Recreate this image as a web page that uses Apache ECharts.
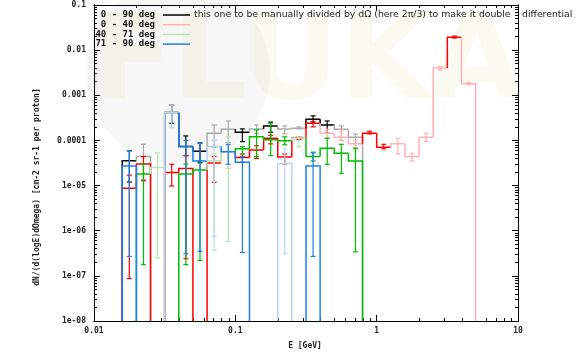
<!DOCTYPE html>
<html>
<head>
<meta charset="utf-8">
<script src="https://cdn.jsdelivr.net/npm/echarts@6/dist/echarts.min.js"></script>
<style>
  html, body { margin: 0; padding: 0; background: #fff; }
  #chart { width: 582px; height: 353px; }
</style>
</head>
<body>
<div id="chart"></div>
<script>
// energy bin edges [GeV], 10 log bins per decade
var edges = [0.01, 0.01259, 0.01585, 0.01995, 0.02512, 0.03162, 0.03981, 0.05012, 0.0631, 0.07943,
  0.1, 0.1259, 0.1585, 0.1995, 0.2512, 0.3162, 0.3981, 0.5012, 0.631, 0.7943,
  1, 1.259, 1.585, 1.995, 2.512, 3.162, 3.981, 5.012, 6.31, 7.943, 10];

var names = ['0 - 90 deg', '0 - 40 deg', '40 - 71 deg', '71 - 90 deg'];

// 0 - 90 deg
var allVal = [null, null, 3.55e-5, 4.4e-5, null, 4.15e-4, 7.3e-5, 5.75e-5, 1.44e-4, 1.77e-4,
  1.52e-4, 1.8e-4, 2.1e-4, 1.8e-4, 1.87e-4, 2.96e-4, 2.2e-4, 1.77e-4, 1.18e-4];
var allLo = [null, null, 1.2e-5, 1.37e-5, null, 2.4e-4, 4.6e-5, 3.2e-5, 7e-5, 9e-5,
  9.4e-5, 1.44e-4, 1.52e-4, 1.4e-4, 1.8e-4, 2.41e-4, 1.44e-4, 1.0e-4, 6.7e-5];
var allHi = [null, null, 5.9e-5, 8.2e-5, null, 6.05e-4, 1.26e-4, 8.8e-5, 2.2e-4, 2.7e-4,
  1.8e-4, 2.2e-4, 2.54e-4, 2.1e-4, 2.0e-4, 3.5e-4, 2.7e-4, 2.1e-4, 1.39e-4];

// 0 - 40 deg
var fwdVal = [null, null, 8.7e-6, 3.0e-5, null, 1.96e-5, 2.4e-5, null, 3.16e-5, 5.6e-5,
  4.2e-5, 6.15e-5, 1.12e-4, 4.3e-5, 1.12e-4, 2.41e-4, 1.44e-4, 1.18e-4, 8.4e-5, 1.44e-4,
  7.1e-5, 8.4e-5, 4.4e-5, 1.18e-4, 4.0e-3, 1.93e-2, 1.8e-3];
var fwdLo = [null, null, 8.7e-8, 1.28e-5, null, 9.75e-6, 2.4e-7, null, 1.18e-5, 2.4e-5,
  3.3e-5, 4.0e-5, 8.4e-5, 3.0e-5, 1.05e-4, 2.0e-4, 1.12e-4, 9.9e-5, 6.5e-5, 1.39e-4,
  6.5e-5, 5.0e-5, 3.5e-5, 9.4e-5, 3.6e-3, 1.85e-2, 1.7e-3];
var fwdHi = [null, null, 1.7e-5, 4.4e-5, null, 2.96e-5, 4.6e-5, null, 4.4e-5, 8e-5,
  5.0e-5, 7.6e-5, 1.3e-4, 5.0e-5, 1.2e-4, 2.6e-4, 1.77e-4, 1.71e-4, 1.0e-4, 1.6e-4,
  8.2e-5, 1.12e-4, 5.2e-5, 1.44e-4, 4.4e-3, 2.05e-2, 1.9e-3];

// 40 - 71 deg
var midVal = [null, null, null, 1.8e-5, 2.5e-5, null, 1.8e-5, 2.2e-5, 3.55e-5, 5.6e-5,
  6.5e-5, 1.21e-4, 1.03e-4, 9.9e-5, 1.12e-4, 4.4e-5, 6.7e-5, 5.2e-5, 3.5e-5];
var midLo = [null, null, null, 1.77e-7, 2.5e-7, null, 1.77e-7, 2.2e-7, 3.7e-7, 5.8e-7,
  4.4e-5, 4.4e-5, 4.6e-5, 8e-5, 7.3e-5, 3.5e-5, 2.96e-5, 1.87e-5, 3.4e-7];
var midHi = [null, null, null, 3.0e-5, 5.3e-5, null, 3.0e-5, 3.5e-5, 5.0e-5, 1.21e-4,
  7.3e-5, 1.71e-4, 2.41e-4, 1.2e-4, 1.2e-4, 5.5e-5, 1.12e-4, 8.2e-5, 6.7e-5];

// 71 - 90 deg
var bckVal = [null, null, 2.7e-5, null, null, 4.08e-4, 7.3e-5, 3.5e-5, 7.3e-5, 5.6e-5,
  3.3e-5, null, null, 3.1e-5, null, 2.7e-5];
var bckLo = [null, null, 2.7e-7, null, null, 1.92e-4, 3.1e-7, 3.5e-7, 7.5e-7, 2.96e-5,
  3.3e-7, null, null, 3.1e-7, null, 2.7e-7];
var bckHi = [null, null, 5.9e-5, null, null, 6.05e-4, 1.0e-4, 8.8e-5, 1.0e-4, 8.2e-5,
  4.4e-5, null, null, 6.5e-5, null, 5.3e-5];

var xTickValues = [0.01, 0.1, 1, 10];
var xTickLabels = ['0.01', '0.1', '1', '10'];
var yTickValues = [1e-8, 1e-7, 1e-6, 1e-5, 1e-4, 1e-3, 1e-2, 1e-1];
var yTickLabels = ['1e-08', '1e-07', '1e-06', '1e-05', '0.0001', '0.001', '0.01', '0.1'];

function minorValues(lo, hi) {
  var out = [];
  for (var d = lo; d < hi; d *= 10) {
    for (var m = 2; m <= 9; m++) out.push(+(m * d).toPrecision(3));
  }
  return out;
}

function labelFor(values, labels) {
  return function (v) {
    for (var i = 0; i < values.length; i++) {
      if (Math.abs(Math.log10(v) - Math.log10(values[i])) < 0.01) return labels[i];
    }
    return '';
  };
}

// step histogram + error bar for one bin
function makeRender(dark, light, faint) {
  return function (params, api) {
    var k = api.value(0);
    var c = faint.indexOf(k) >= 0 ? light : dark;
    var bottom = params.coordSys.y + params.coordSys.height;
    var xa = api.value(1), xb = api.value(2), v = api.value(3);
    var p0 = api.coord([xa, v]);
    var p1 = api.coord([xb, v]);
    var prev = api.value(6), next = api.value(7);
    var yPrev = prev > 0 ? api.coord([xa, prev])[1] : bottom;
    var pts = [[p0[0], yPrev], p0, p1];
    if (!(next > 0)) pts.push([p1[0], bottom]);
    var xm = api.coord([Math.sqrt(xa * xb), v])[0];
    var yl = api.coord([xa, api.value(4)])[1];
    var yh = api.coord([xa, api.value(5)])[1];
    var cap = 2.5;
    return {
      type: 'group',
      children: [
        { type: 'polyline', shape: { points: pts }, style: { stroke: c, lineWidth: 1.5, fill: null } },
        { type: 'line', shape: { x1: xm, y1: yl, x2: xm, y2: yh }, style: { stroke: c, lineWidth: 1.2 } },
        { type: 'line', shape: { x1: xm - cap, y1: yl, x2: xm + cap, y2: yl }, style: { stroke: c, lineWidth: 1.2 } },
        { type: 'line', shape: { x1: xm - cap, y1: yh, x2: xm + cap, y2: yh }, style: { stroke: c, lineWidth: 1.2 } }
      ]
    };
  };
}

function binData(val, lo, hi) {
  var out = [];
  for (var k = 0; k < val.length; k++) {
    if (val[k] == null) continue;
    out.push([k, edges[k], edges[k + 1], val[k], lo[k], hi[k],
      val[k - 1] || 0, val[k + 1] || 0]);
  }
  return out;
}

// drawn in key order, the last one ends on top
var sets = [
  { name: names[0], val: allVal, lo: allLo, hi: allHi, dark: '#000000', light: '#aaaaaa', faint: [3, 8, 9, 11, 13, 14, 17, 18], legend: '#000000' },
  { name: names[1], val: fwdVal, lo: fwdLo, hi: fwdHi, dark: '#ff0000', light: '#ffb2b2', faint: [9, 16, 17, 18, 21, 22, 23, 24, 26], legend: '#ffb2b2' },
  { name: names[2], val: midVal, lo: midLo, hi: midHi, dark: '#00bb00', light: '#b6e6b6', faint: [4, 8, 9, 14], legend: '#b6e6b6' },
  { name: names[3], val: bckVal, lo: bckLo, hi: bckHi, dark: '#1a80f0', light: '#b8d6f4', faint: [5, 8, 13], legend: '#1a80f0' }
];

var monoFont = 'DejaVu Sans Mono';
var tickText = { fontFamily: monoFont, fontSize: 8, fontWeight: 'bold', color: '#222' };

function xAx(pos, ticks, len, labels) {
  return {
    type: 'log', logBase: 10, min: 0.01, max: 10, position: pos,
    axisLine: { show: true, lineStyle: { color: '#000', width: 1 } },
    axisTick: { show: true, inside: true, length: len, customValues: ticks, lineStyle: { color: '#000' } },
    axisLabel: labels ? Object.assign({ show: true, margin: 6, customValues: xTickValues,
      formatter: labelFor(xTickValues, xTickLabels) }, tickText) : { show: false },
    splitLine: { show: false }, minorTick: { show: false }
  };
}
function yAx(pos, ticks, len, labels) {
  return {
    type: 'log', logBase: 10, min: 1e-8, max: 0.1, position: pos,
    axisLine: { show: true, lineStyle: { color: '#000', width: 1 } },
    axisTick: { show: true, inside: true, length: len, customValues: ticks, lineStyle: { color: '#000' } },
    axisLabel: labels ? Object.assign({ show: true, margin: 8, customValues: yTickValues,
      formatter: labelFor(yTickValues, yTickLabels) }, tickText) : { show: false },
    splitLine: { show: false }, minorTick: { show: false }
  };
}

var legendGraphics = [];
sets.forEach(function (s, i) {
  var y = 15 + i * 9.7;
  legendGraphics.push({
    type: 'text', x: 155, y: y, z: 100,
    style: { text: s.name, fill: '#111', font: 'bold 9px "DejaVu Sans Mono"', textAlign: 'right', textVerticalAlign: 'middle' }
  });
  legendGraphics.push({
    type: 'line', z: 100, shape: { x1: 163, y1: y, x2: 190, y2: y },
    style: { stroke: s.legend, lineWidth: 1.5 }
  });
});

var chart = echarts.init(document.getElementById('chart'), null, { renderer: 'canvas' });
chart.setOption({
  animation: false,
  backgroundColor: '#fff',
  grid: { left: 94, right: 64, top: 5, bottom: 32, containLabel: false },
  xAxis: [
    xAx('bottom', xTickValues, 6, true),
    xAx('bottom', minorValues(0.01, 10), 3, false),
    xAx('top', xTickValues, 6, false),
    xAx('top', minorValues(0.01, 10), 3, false)
  ],
  yAxis: [
    yAx('left', yTickValues, 6, true),
    yAx('left', minorValues(1e-8, 0.1), 3, false),
    yAx('right', yTickValues, 6, false),
    yAx('right', minorValues(1e-8, 0.1), 3, false)
  ],
  series: sets.map(function (s) {
    return {
      type: 'custom', name: s.name,
      xAxisIndex: 0, yAxisIndex: 0,
      renderItem: makeRender(s.dark, s.light, s.faint),
      encode: { x: [1, 2], y: [3, 4, 5] },
      itemStyle: { color: s.legend },
      data: binData(s.val, s.lo, s.hi)
    };
  }),
  graphic: [
    {
      type: 'circle', z: -11, silent: true, shape: { cx: 178, cy: 72, r: 92 },
      style: { fill: 'rgba(0,0,0,0.03)' }
    },
    {
      type: 'text', x: 92, y: 8, z: -10, silent: true,
      style: { text: 'FLUKA', font: 'bold 118px "DejaVu Sans"', fill: 'rgba(225,225,180,0.18)' }
    },
    {
      type: 'text', x: 194, y: 15, z: 100,
      style: { text: 'this one to be manually divided by d\u03a9 (here 2\u03c0/3) to make it double',
        font: '9.3px "DejaVu Sans"', fill: '#222', textVerticalAlign: 'middle' }
    },
    {
      type: 'text', x: 522, y: 15, z: 100,
      style: { text: 'differential', font: '9.3px "DejaVu Sans"', fill: '#222', textVerticalAlign: 'middle' }
    },
    {
      type: 'text', x: 305, y: 346, z: 100,
      style: { text: 'E [GeV]', font: 'bold 8px "DejaVu Sans Mono"', fill: '#222', textAlign: 'center', textVerticalAlign: 'middle' }
    },
    {
      type: 'text', x: 37, y: 187, rotation: Math.PI / 2, z: 100,
      style: { text: 'dN/(d(logE)dOmega) [cm-2 sr-1 per proton]', font: 'bold 8px "DejaVu Sans Mono"', fill: '#222', textAlign: 'center', textVerticalAlign: 'middle' }
    }
  ].concat(legendGraphics)
});
</script>
</body>
</html>
